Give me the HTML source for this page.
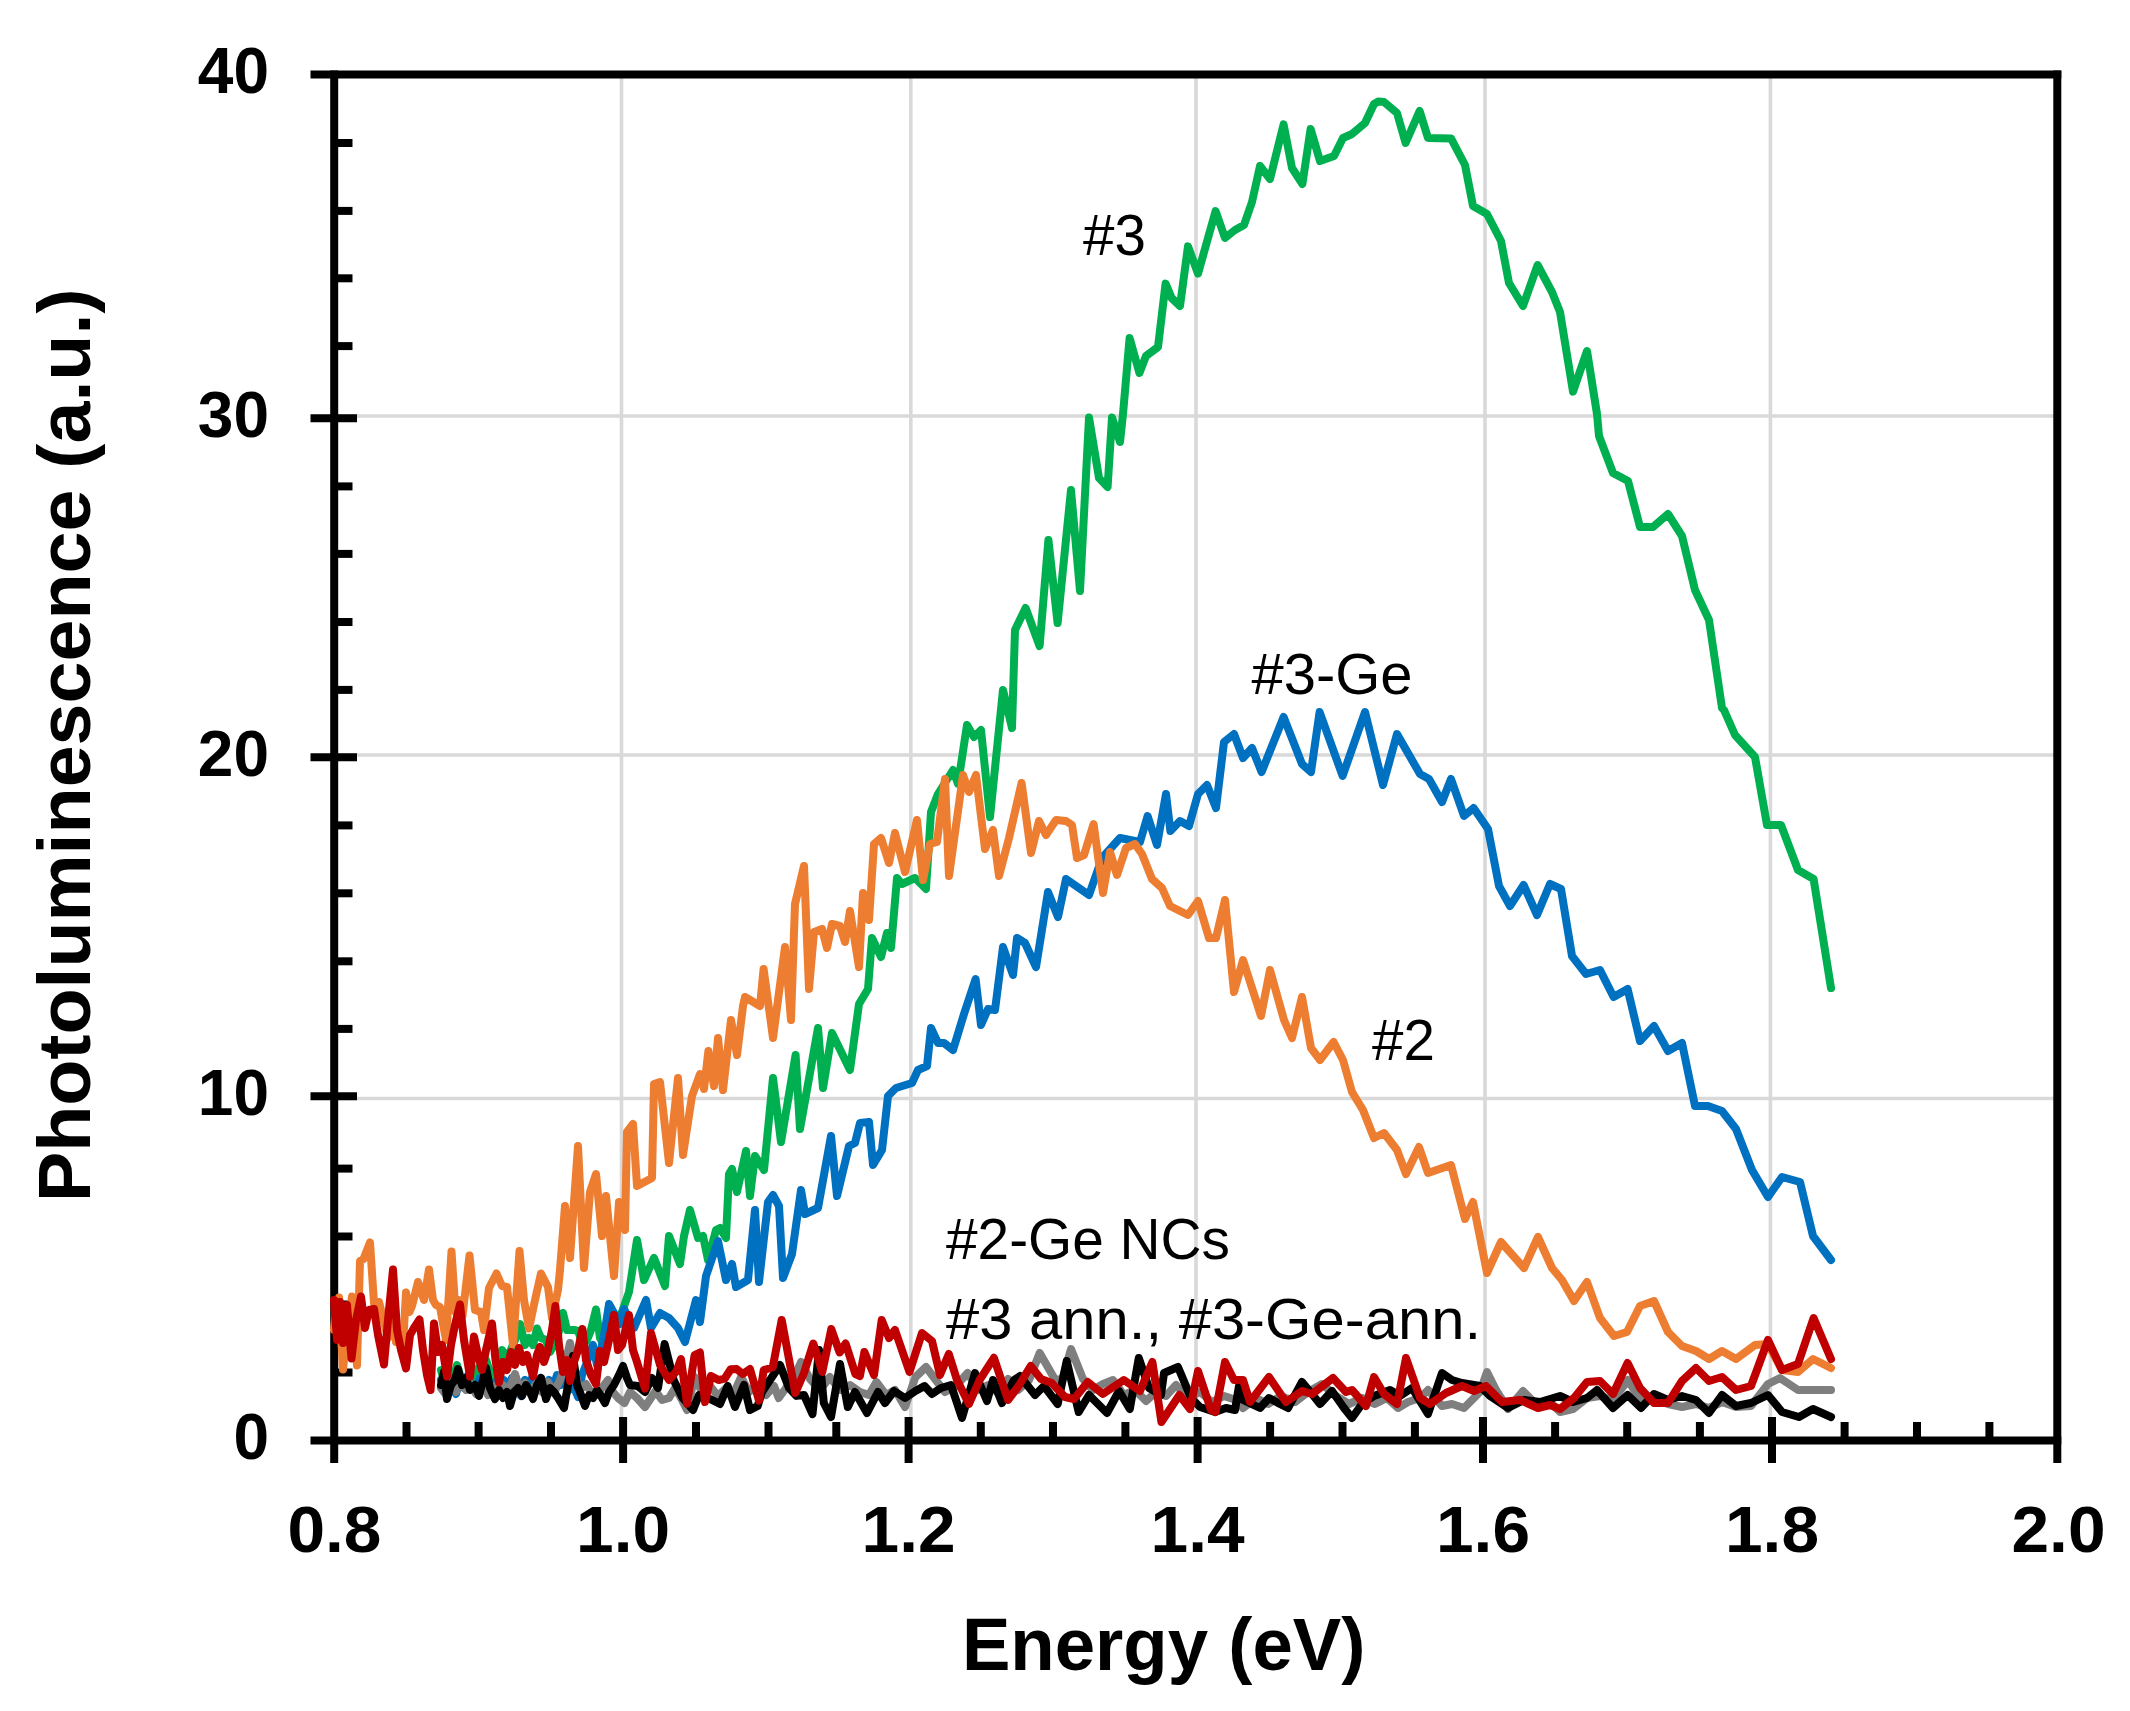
<!DOCTYPE html>
<html><head><meta charset="utf-8"><title>Photoluminescence</title>
<style>
html,body{margin:0;padding:0;background:#fff;}
body{width:2130px;height:1711px;overflow:hidden;}
svg{display:block}
text{font-family:"Liberation Sans",sans-serif;fill:#000}
.b{font-weight:bold}
</style></head><body>
<svg width="2130" height="1711" viewBox="0 0 2130 1711">
<rect width="2130" height="1711" fill="#fff"/>
<g stroke="#d9d9d9" stroke-width="3.6" fill="none"><line x1="621.5" y1="75" x2="621.5" y2="1440"/><line x1="910.8" y1="75" x2="910.8" y2="1440"/><line x1="1196" y1="75" x2="1196" y2="1440"/><line x1="1485" y1="75" x2="1485" y2="1440"/><line x1="1770.4" y1="75" x2="1770.4" y2="1440"/><line x1="334" y1="1098.5" x2="2057" y2="1098.5"/><line x1="334" y1="755" x2="2057" y2="755"/><line x1="334" y1="416" x2="2057" y2="416"/></g>
<g stroke="#000" stroke-width="8" fill="none"><line x1="334.2" y1="70.6" x2="334.2" y2="1463"/><line x1="2057.3" y1="70.6" x2="2057.3" y2="1463"/><line x1="310.5" y1="74.6" x2="2061.3" y2="74.6"/><line x1="310.5" y1="1440.6" x2="2061.3" y2="1440.6"/><line x1="334" y1="143" x2="352.5" y2="143"/><line x1="334" y1="210.9" x2="352.5" y2="210.9"/><line x1="334" y1="278.3" x2="352.5" y2="278.3"/><line x1="334" y1="346.1" x2="352.5" y2="346.1"/><line x1="310.5" y1="418.2" x2="357" y2="418.2"/><line x1="334" y1="486.4" x2="352.5" y2="486.4"/><line x1="334" y1="553.9" x2="352.5" y2="553.9"/><line x1="334" y1="622" x2="352.5" y2="622"/><line x1="334" y1="689.9" x2="352.5" y2="689.9"/><line x1="310.5" y1="757.3" x2="357" y2="757.3"/><line x1="334" y1="825.4" x2="352.5" y2="825.4"/><line x1="334" y1="893.3" x2="352.5" y2="893.3"/><line x1="334" y1="961.3" x2="352.5" y2="961.3"/><line x1="334" y1="1028.9" x2="352.5" y2="1028.9"/><line x1="310.5" y1="1096.3" x2="357" y2="1096.3"/><line x1="334" y1="1168.6" x2="352.5" y2="1168.6"/><line x1="334" y1="1236.5" x2="352.5" y2="1236.5"/><line x1="334" y1="1304.5" x2="352.5" y2="1304.5"/><line x1="334" y1="1372.5" x2="352.5" y2="1372.5"/><line x1="406.5" y1="1422" x2="406.5" y2="1440"/><line x1="478.6" y1="1422" x2="478.6" y2="1440"/><line x1="551" y1="1422" x2="551" y2="1440"/><line x1="623.1" y1="1417" x2="623.1" y2="1463"/><line x1="696" y1="1422" x2="696" y2="1440"/><line x1="768.5" y1="1422" x2="768.5" y2="1440"/><line x1="836.3" y1="1422" x2="836.3" y2="1440"/><line x1="908.6" y1="1417" x2="908.6" y2="1463"/><line x1="980.8" y1="1422" x2="980.8" y2="1440"/><line x1="1053" y1="1422" x2="1053" y2="1440"/><line x1="1125.4" y1="1422" x2="1125.4" y2="1440"/><line x1="1197.6" y1="1417" x2="1197.6" y2="1463"/><line x1="1270.1" y1="1422" x2="1270.1" y2="1440"/><line x1="1342.5" y1="1422" x2="1342.5" y2="1440"/><line x1="1414.9" y1="1422" x2="1414.9" y2="1440"/><line x1="1483" y1="1417" x2="1483" y2="1463"/><line x1="1555.1" y1="1422" x2="1555.1" y2="1440"/><line x1="1627.2" y1="1422" x2="1627.2" y2="1440"/><line x1="1699.9" y1="1422" x2="1699.9" y2="1440"/><line x1="1772" y1="1417" x2="1772" y2="1463"/><line x1="1844.6" y1="1422" x2="1844.6" y2="1440"/><line x1="1917" y1="1422" x2="1917" y2="1440"/><line x1="1989.4" y1="1422" x2="1989.4" y2="1440"/></g>
<polyline points="441.0,1370.0 445.0,1385.0 449.0,1372.0 453.0,1380.0 457.0,1365.0 461.0,1378.0 465.0,1385.0 470.0,1372.0 474.0,1380.0 478.0,1368.0 482.0,1378.0 486.0,1360.0 490.0,1372.0 494.0,1380.0 498.0,1362.0 502.0,1350.0 506.0,1356.0 510.0,1352.0 515.0,1340.0 520.0,1324.0 525.0,1345.0 529.0,1338.0 533.0,1345.0 537.0,1328.5 541.0,1338.0 546.0,1340.0 550.0,1352.0 554.0,1345.0 558.0,1335.0 563.0,1313.0 567.0,1330.0 570.0,1330.0 574.0,1330.0 578.0,1331.0 583.0,1345.0 587.0,1340.0 591.0,1330.0 596.0,1309.5 600.0,1338.0 604.0,1345.0 609.0,1335.0 614.0,1322.0 618.0,1318.0 622.0,1312.0 629.0,1292.0 637.0,1240.0 644.0,1280.0 654.0,1258.0 665.0,1286.0 669.0,1236.0 680.0,1264.0 684.0,1236.0 690.0,1210.0 698.0,1238.0 703.0,1236.0 708.0,1260.0 716.0,1230.0 720.0,1228.0 726.0,1238.0 729.0,1174.0 732.0,1169.0 737.0,1192.0 746.0,1151.0 750.0,1196.0 755.0,1156.0 764.0,1170.0 773.0,1078.0 781.0,1142.0 795.6,1055.0 800.0,1129.0 818.0,1028.0 823.0,1088.0 832.0,1033.0 850.0,1070.0 859.0,1004.0 868.0,989.0 872.0,938.0 881.0,957.0 887.0,933.0 891.0,948.0 897.0,878.0 902.0,884.0 915.0,878.0 926.0,889.0 931.0,812.0 938.0,794.0 953.0,770.0 958.0,784.0 967.0,725.0 974.0,737.0 981.0,730.0 990.0,817.0 1003.0,690.0 1012.0,728.0 1015.0,630.0 1025.6,608.0 1039.6,646.0 1048.4,540.0 1057.6,623.0 1071.0,490.0 1080.0,591.0 1089.0,417.6 1099.0,478.0 1107.6,487.0 1112.0,417.6 1120.0,442.0 1123.0,414.0 1129.6,338.0 1139.4,373.0 1146.0,356.0 1158.0,347.0 1165.6,283.6 1171.6,298.0 1180.0,306.0 1188.0,246.4 1198.0,273.6 1215.6,211.0 1225.0,238.0 1235.0,230.0 1244.0,225.0 1252.0,202.0 1260.0,166.0 1270.0,179.0 1283.6,124.4 1292.0,168.0 1302.4,184.0 1310.6,129.0 1320.0,161.0 1334.0,156.0 1343.0,138.0 1352.0,134.0 1365.0,123.0 1374.0,104.0 1378.0,101.6 1384.0,102.0 1397.0,113.0 1405.6,143.0 1419.6,111.0 1428.0,138.0 1451.0,138.4 1465.0,165.0 1473.0,206.0 1487.0,214.0 1501.0,241.0 1509.0,283.0 1523.0,306.0 1537.6,265.0 1552.0,292.0 1560.0,312.0 1573.0,391.6 1587.0,351.0 1597.0,414.0 1599.0,436.0 1613.0,473.0 1628.0,481.0 1640.0,527.0 1653.0,527.0 1668.0,514.0 1682.0,536.0 1695.0,590.0 1709.0,620.0 1722.0,708.0 1724.0,710.0 1735.0,735.0 1755.0,757.0 1767.0,825.0 1781.0,825.0 1798.0,870.0 1813.6,879.0 1831.0,988.0" fill="none" stroke="#00b050" stroke-width="8.0" stroke-linejoin="round" stroke-linecap="round"/>
<polyline points="441.0,1380.0 445.0,1390.0 449.0,1378.0 453.0,1388.0 456.0,1394.0 460.0,1380.0 464.0,1388.0 468.0,1375.0 472.0,1385.0 476.0,1390.0 480.0,1378.0 484.0,1388.0 488.0,1380.0 492.0,1390.0 496.0,1382.0 500.0,1392.0 504.0,1380.0 508.0,1388.0 512.0,1378.0 516.0,1390.0 521.0,1396.0 525.0,1380.0 529.0,1388.0 533.0,1375.0 537.0,1385.0 541.0,1378.0 545.0,1390.0 549.0,1380.0 553.0,1388.0 557.0,1375.0 561.0,1385.0 565.0,1378.0 569.0,1390.0 573.0,1385.0 578.0,1397.0 582.0,1375.0 586.0,1365.0 590.0,1352.0 593.0,1345.0 597.0,1365.0 601.0,1350.0 605.0,1330.0 609.0,1304.0 620.0,1324.0 624.0,1309.0 634.0,1328.0 646.0,1300.0 651.0,1328.0 660.0,1313.0 669.0,1318.0 678.0,1328.0 685.0,1342.0 696.0,1300.0 700.0,1322.0 706.0,1276.0 718.0,1241.0 726.0,1280.0 732.0,1264.0 736.0,1287.0 748.0,1280.0 755.0,1210.0 759.0,1282.0 768.0,1202.0 773.0,1195.0 779.0,1206.0 783.0,1278.0 792.0,1254.0 801.0,1190.0 805.0,1214.0 818.0,1208.0 831.0,1136.0 837.0,1196.0 849.0,1146.0 855.0,1143.0 860.0,1123.0 869.0,1122.0 873.0,1165.0 882.0,1150.0 888.0,1096.0 896.0,1088.0 912.0,1083.0 918.0,1070.0 927.0,1066.0 931.0,1028.0 938.0,1043.0 944.0,1043.0 953.0,1050.0 964.0,1014.0 975.6,979.0 981.0,1025.0 988.0,1009.0 995.0,1010.0 1003.0,947.0 1013.0,975.0 1017.0,938.0 1025.0,943.0 1036.0,967.0 1048.0,892.0 1058.0,917.0 1066.0,879.0 1089.0,895.0 1102.0,858.0 1120.0,838.0 1140.0,842.0 1147.6,816.0 1157.0,845.0 1166.0,794.0 1170.4,831.0 1180.0,821.0 1189.0,826.0 1198.0,794.0 1207.0,785.0 1216.0,808.0 1224.0,742.0 1234.0,734.0 1243.0,758.0 1252.0,748.0 1261.6,772.0 1283.6,717.0 1302.0,764.0 1311.0,772.0 1319.6,712.0 1342.6,776.0 1365.0,712.0 1383.0,785.0 1397.0,734.0 1420.0,774.0 1429.0,779.0 1442.0,802.0 1451.0,779.0 1464.0,816.0 1473.6,808.0 1488.0,829.0 1499.0,886.0 1510.0,906.0 1523.6,885.0 1537.0,915.0 1550.0,884.0 1561.0,889.0 1572.0,956.0 1586.0,974.0 1600.0,970.0 1613.6,997.0 1627.6,989.0 1640.0,1041.0 1654.0,1026.0 1668.0,1051.0 1682.0,1043.0 1695.0,1106.0 1708.0,1106.0 1722.0,1111.0 1736.0,1129.0 1752.0,1170.0 1768.0,1197.0 1782.0,1177.0 1800.0,1182.0 1813.0,1236.0 1831.0,1260.0" fill="none" stroke="#0070c0" stroke-width="8.0" stroke-linejoin="round" stroke-linecap="round"/>
<polyline points="334.0,1330.0 336.0,1310.0 339.0,1297.5 343.0,1369.5 347.0,1330.0 352.0,1296.5 357.0,1365.5 360.0,1261.0 363.5,1259.0 370.0,1242.5 374.0,1303.0 379.0,1302.0 384.0,1322.0 388.0,1338.0 392.0,1312.0 396.0,1342.0 400.0,1330.0 403.0,1345.0 406.0,1292.5 409.5,1312.0 412.0,1306.0 418.0,1282.0 424.0,1300.0 429.0,1269.5 433.0,1300.0 436.0,1305.0 440.0,1307.0 446.0,1340.0 451.5,1251.5 455.5,1312.0 459.0,1300.0 462.5,1316.0 469.5,1255.5 475.0,1310.0 481.0,1312.0 484.0,1330.0 489.0,1288.0 496.5,1273.5 502.0,1286.0 507.0,1287.0 513.0,1344.5 519.5,1251.0 524.0,1300.0 529.0,1328.5 535.0,1300.0 541.0,1273.5 548.0,1287.0 552.0,1318.0 558.0,1290.0 560.0,1270.0 565.0,1206.0 570.0,1258.0 578.0,1146.0 584.0,1268.0 590.0,1192.0 596.0,1174.0 602.0,1236.0 606.0,1196.0 614.0,1276.0 619.0,1202.0 625.0,1230.0 627.0,1132.0 633.0,1124.0 637.0,1186.0 652.0,1178.0 654.0,1084.0 660.0,1082.0 669.0,1163.0 678.0,1078.0 683.0,1155.0 692.0,1096.0 700.0,1074.0 704.0,1089.0 708.4,1051.0 714.0,1086.0 718.0,1038.0 723.0,1090.0 731.0,1020.0 737.0,1055.0 743.0,1006.0 745.0,997.0 760.0,1006.0 763.6,969.0 773.0,1038.0 785.0,947.0 791.0,1020.0 795.0,904.0 804.0,866.0 809.0,989.0 814.0,932.0 822.0,929.0 827.0,948.0 832.0,924.0 840.0,926.0 845.0,942.0 850.0,911.0 859.0,967.0 863.0,893.0 869.0,920.0 874.0,844.0 881.0,838.0 889.0,863.0 895.0,833.0 905.0,872.0 917.0,820.0 923.0,880.0 930.0,844.0 937.0,842.0 945.0,779.0 949.0,876.0 963.0,775.0 969.0,792.0 976.0,775.0 985.0,849.0 993.0,830.0 999.0,876.0 1009.0,838.0 1021.6,783.0 1031.0,853.0 1039.0,821.0 1046.0,835.0 1056.0,820.0 1066.0,821.0 1072.0,825.0 1077.0,858.0 1084.0,855.0 1093.6,824.0 1103.0,893.0 1110.0,852.0 1117.0,875.0 1126.0,848.0 1135.0,844.0 1142.0,854.0 1152.0,879.0 1162.0,888.0 1170.0,906.0 1188.0,915.0 1198.0,901.0 1209.0,938.0 1216.0,938.0 1225.0,900.0 1234.0,992.0 1243.0,960.0 1261.0,1016.0 1270.0,970.0 1284.0,1020.0 1292.0,1038.0 1302.0,997.0 1311.0,1048.0 1320.0,1060.0 1333.6,1042.0 1343.0,1060.0 1352.0,1092.0 1363.0,1110.0 1374.0,1138.0 1384.0,1133.0 1397.0,1150.0 1406.0,1174.0 1419.0,1147.0 1428.0,1173.0 1451.0,1165.0 1465.0,1219.0 1473.0,1202.0 1487.0,1273.0 1501.0,1242.0 1524.0,1268.0 1538.0,1237.0 1552.0,1268.0 1562.0,1280.0 1574.0,1301.0 1587.0,1282.0 1600.0,1318.0 1614.0,1336.0 1627.0,1332.0 1640.0,1306.0 1654.0,1301.0 1668.0,1332.0 1682.0,1346.0 1696.0,1351.0 1709.0,1359.0 1722.0,1351.0 1736.0,1359.0 1755.0,1345.0 1768.0,1344.0 1782.0,1370.0 1798.0,1372.0 1813.0,1359.0 1831.0,1368.0" fill="none" stroke="#ed7d31" stroke-width="8.0" stroke-linejoin="round" stroke-linecap="round"/>
<polyline points="441.0,1388.0 446.0,1395.0 451.0,1382.0 456.0,1392.0 461.0,1380.0 466.0,1390.0 471.0,1384.0 476.0,1394.0 480.0,1392.0 484.0,1385.0 488.0,1395.0 493.0,1386.0 498.0,1394.0 503.0,1385.0 508.0,1392.0 515.0,1374.0 520.0,1390.0 525.0,1383.0 530.0,1393.0 536.0,1384.0 542.0,1392.0 548.0,1382.0 554.0,1393.0 560.0,1380.0 565.0,1365.0 570.0,1343.0 575.0,1372.0 580.0,1390.0 586.0,1384.0 591.0,1392.0 597.0,1395.0 602.0,1388.0 608.0,1380.0 613.0,1392.0 618.0,1398.0 624.5,1403.0 630.0,1392.0 637.0,1398.0 645.0,1407.0 655.5,1391.0 662.0,1400.0 669.0,1398.0 675.0,1388.0 681.0,1398.0 687.0,1410.0 694.6,1377.0 702.0,1392.0 710.0,1386.0 718.0,1396.0 726.0,1388.0 733.0,1395.0 741.0,1377.0 749.0,1392.0 757.0,1385.0 766.0,1395.0 774.0,1386.0 778.7,1398.0 786.0,1388.0 793.0,1380.0 801.0,1362.0 810.0,1379.0 820.0,1390.0 829.8,1377.0 840.0,1390.0 850.0,1385.0 860.0,1392.0 869.0,1395.0 876.4,1382.0 886.0,1395.0 895.0,1390.0 905.0,1407.0 915.5,1377.0 926.0,1367.0 935.0,1379.0 945.0,1392.0 956.0,1386.0 967.6,1373.0 978.0,1390.0 988.0,1385.0 998.0,1393.0 1008.0,1379.0 1018.0,1390.0 1029.0,1380.0 1039.7,1353.0 1054.7,1379.0 1062.0,1380.0 1071.0,1349.0 1083.0,1379.0 1093.0,1390.0 1103.0,1384.0 1113.0,1380.0 1124.0,1395.0 1135.0,1390.0 1146.0,1401.0 1156.0,1392.0 1166.0,1396.0 1176.0,1385.0 1188.0,1398.0 1200.0,1392.0 1212.0,1402.0 1224.0,1396.0 1236.0,1400.0 1243.0,1408.0 1256.0,1398.0 1268.0,1404.0 1281.0,1396.0 1295.0,1402.0 1308.0,1392.0 1322.0,1384.0 1336.0,1396.0 1349.0,1404.0 1362.0,1398.0 1375.0,1404.0 1387.0,1398.0 1398.0,1408.0 1408.0,1402.0 1420.0,1398.0 1428.0,1390.0 1442.0,1406.0 1452.0,1404.0 1464.0,1408.0 1480.0,1392.0 1487.0,1372.0 1496.0,1390.0 1508.0,1409.0 1523.0,1391.0 1536.0,1404.0 1548.0,1400.0 1560.0,1412.0 1573.0,1409.0 1587.0,1398.0 1600.0,1396.0 1613.0,1400.0 1628.0,1380.0 1640.0,1400.0 1654.0,1400.0 1668.0,1404.0 1682.0,1407.0 1696.0,1404.0 1709.0,1408.0 1722.0,1402.0 1736.0,1407.0 1751.0,1406.0 1768.0,1384.0 1780.0,1378.0 1798.0,1390.0 1813.0,1390.0 1831.0,1390.0" fill="none" stroke="#7f7f7f" stroke-width="8.0" stroke-linejoin="round" stroke-linecap="round"/>
<polyline points="441.0,1385.0 444.0,1372.0 447.0,1399.0 451.0,1385.0 455.0,1380.0 458.0,1369.0 462.0,1385.0 466.0,1378.0 470.0,1390.0 475.0,1385.0 479.0,1396.0 483.0,1380.0 486.0,1368.0 490.0,1388.0 495.0,1399.0 499.0,1390.0 503.0,1398.0 507.0,1392.0 510.0,1406.0 514.0,1392.0 518.0,1388.0 522.0,1396.0 526.0,1385.0 530.0,1392.0 533.0,1399.0 537.0,1385.0 541.0,1378.0 546.0,1399.0 550.0,1388.0 554.0,1392.0 558.0,1398.0 564.0,1408.0 568.0,1385.0 573.0,1356.0 577.0,1385.0 581.0,1395.0 585.0,1406.0 589.0,1395.0 593.0,1398.0 597.0,1390.0 601.0,1396.0 605.0,1403.0 609.0,1392.0 614.0,1385.0 619.0,1375.0 623.0,1366.0 627.0,1378.0 630.0,1385.0 637.5,1386.0 645.0,1392.0 652.0,1378.0 658.0,1388.0 664.6,1344.0 673.6,1380.0 682.6,1398.0 693.0,1410.0 699.0,1395.0 708.0,1398.0 714.0,1401.0 720.0,1404.0 727.7,1386.0 735.0,1407.0 744.0,1385.0 750.0,1410.0 757.7,1406.0 762.0,1392.0 772.7,1376.0 780.0,1365.0 789.0,1388.0 796.5,1395.9 804.0,1395.0 812.5,1414.0 819.0,1350.0 823.8,1403.0 831.0,1417.0 840.0,1364.0 847.8,1407.0 855.0,1392.0 867.0,1413.0 878.0,1392.0 885.0,1403.0 894.0,1391.0 905.0,1398.0 915.5,1391.0 924.5,1386.0 932.0,1394.0 941.0,1388.0 951.0,1385.0 962.0,1418.0 975.0,1373.0 987.0,1401.0 993.0,1380.0 1002.0,1403.0 1014.0,1380.0 1020.0,1376.0 1035.0,1395.0 1044.0,1386.0 1057.7,1404.0 1066.7,1361.0 1078.7,1412.0 1089.0,1395.0 1107.0,1413.0 1119.0,1391.0 1129.8,1409.0 1138.8,1358.0 1149.0,1388.0 1161.0,1395.0 1164.0,1373.0 1178.0,1367.0 1191.0,1398.0 1200.0,1407.0 1215.0,1412.0 1226.0,1408.0 1235.0,1410.0 1239.0,1386.0 1243.0,1400.0 1260.0,1408.0 1269.0,1398.0 1280.0,1404.0 1288.0,1408.0 1302.0,1382.0 1312.0,1394.0 1320.0,1404.0 1332.0,1391.0 1344.0,1408.0 1352.0,1418.0 1362.0,1404.0 1374.0,1396.0 1390.0,1390.0 1400.0,1396.0 1412.0,1388.0 1428.0,1414.0 1442.0,1373.0 1452.0,1380.0 1462.0,1383.0 1480.0,1386.0 1490.0,1396.0 1508.0,1408.0 1524.0,1400.0 1540.0,1402.0 1560.0,1396.0 1573.0,1402.0 1587.0,1398.0 1597.0,1390.0 1613.0,1408.0 1627.6,1395.0 1641.0,1408.0 1654.0,1394.0 1668.0,1400.0 1682.0,1396.0 1696.0,1400.0 1709.0,1413.0 1722.0,1395.0 1736.0,1406.0 1751.0,1403.0 1768.0,1395.0 1782.0,1412.0 1799.0,1417.0 1813.0,1409.0 1831.0,1417.0" fill="none" stroke="#000000" stroke-width="8.0" stroke-linejoin="round" stroke-linecap="round"/>
<polyline points="334.0,1300.0 337.0,1340.0 340.0,1302.0 343.0,1343.0 347.0,1305.0 351.5,1358.5 356.0,1320.0 361.0,1296.5 365.0,1328.0 369.0,1310.0 374.0,1309.0 378.0,1335.0 384.0,1364.5 388.0,1320.0 393.0,1269.5 397.0,1330.0 401.0,1350.0 406.0,1368.5 410.0,1335.0 414.0,1328.0 419.5,1319.5 423.0,1350.0 427.0,1375.0 430.6,1390.0 434.0,1323.5 438.0,1352.0 442.0,1345.0 447.0,1376.5 451.0,1345.0 455.0,1325.0 460.0,1304.5 464.0,1340.0 470.0,1376.5 474.0,1336.5 478.0,1355.0 482.0,1370.0 486.0,1350.0 492.0,1323.5 495.5,1360.0 499.0,1382.5 503.0,1362.0 507.0,1370.0 511.0,1352.0 515.0,1365.0 519.0,1348.0 523.0,1362.0 527.0,1355.0 533.0,1376.5 537.0,1355.0 540.0,1347.0 544.0,1362.0 548.0,1350.0 552.0,1330.0 555.4,1306.0 559.0,1345.0 563.0,1372.0 567.0,1360.0 570.0,1381.0 574.0,1362.0 578.0,1350.0 582.4,1329.0 586.0,1360.0 591.0,1375.0 596.0,1384.0 600.0,1351.0 604.0,1362.0 609.0,1340.0 614.0,1315.0 618.0,1350.0 622.0,1345.0 629.0,1315.0 633.0,1350.0 637.0,1362.0 645.0,1388.6 651.0,1333.0 660.0,1365.0 669.0,1380.0 676.6,1371.0 681.0,1359.0 687.0,1403.6 694.6,1355.0 699.9,1352.5 705.0,1402.0 711.0,1376.0 718.6,1380.0 724.6,1378.7 730.7,1369.3 736.7,1369.0 742.7,1374.0 750.0,1369.0 759.0,1400.6 763.7,1370.0 772.7,1367.5 781.7,1320.0 795.3,1393.0 804.0,1373.0 813.3,1343.5 822.3,1372.0 831.3,1329.0 839.6,1352.5 845.6,1343.5 855.4,1374.0 859.9,1376.0 864.4,1352.0 874.0,1375.0 881.7,1320.0 889.0,1338.0 895.0,1330.0 909.5,1372.0 922.0,1333.0 932.0,1341.0 940.0,1375.0 948.8,1354.0 957.0,1380.0 969.0,1404.0 979.6,1380.0 993.9,1357.8 1008.0,1400.0 1018.6,1386.0 1030.7,1366.0 1041.0,1379.0 1051.7,1383.0 1065.0,1397.0 1074.0,1399.0 1087.8,1382.0 1102.8,1394.0 1123.8,1380.0 1140.0,1391.0 1152.4,1362.0 1161.4,1422.0 1179.4,1395.0 1190.0,1409.0 1198.0,1371.0 1211.0,1410.0 1215.5,1412.0 1225.0,1362.0 1234.0,1380.0 1243.0,1380.0 1250.0,1402.0 1269.0,1377.0 1286.0,1402.0 1302.0,1391.0 1312.0,1394.0 1333.0,1378.0 1346.0,1392.0 1352.0,1390.0 1366.0,1406.0 1374.0,1377.0 1384.0,1394.0 1397.0,1404.0 1406.0,1358.0 1420.0,1398.0 1430.0,1404.0 1446.0,1393.0 1462.0,1386.0 1474.0,1391.0 1486.0,1386.0 1502.0,1402.0 1520.0,1400.0 1538.0,1408.0 1550.0,1405.0 1560.0,1409.0 1574.0,1398.0 1587.0,1382.0 1600.0,1381.0 1613.0,1394.0 1627.6,1363.0 1640.0,1388.0 1654.0,1403.0 1668.0,1403.0 1682.0,1381.0 1696.0,1368.0 1709.0,1381.0 1722.0,1377.0 1736.0,1390.0 1751.0,1386.0 1768.0,1340.0 1782.0,1370.0 1798.0,1364.0 1813.6,1318.0 1831.0,1359.0" fill="none" stroke="#c00000" stroke-width="8.0" stroke-linejoin="round" stroke-linecap="round"/>
<text class="b" x="269" y="1458.9" font-size="64" text-anchor="end">0</text><text class="b" x="269" y="1114.6" font-size="64" text-anchor="end">10</text><text class="b" x="269" y="775.6" font-size="64" text-anchor="end">20</text><text class="b" x="269" y="436.5" font-size="64" text-anchor="end">30</text><text class="b" x="269" y="92.9" font-size="64" text-anchor="end">40</text><text class="b" x="287.4" y="1552" font-size="64" textLength="94" lengthAdjust="spacingAndGlyphs">0.8</text><text class="b" x="576.1" y="1552" font-size="64" textLength="94" lengthAdjust="spacingAndGlyphs">1.0</text><text class="b" x="861.6" y="1552" font-size="64" textLength="94" lengthAdjust="spacingAndGlyphs">1.2</text><text class="b" x="1150.6" y="1552" font-size="64" textLength="94" lengthAdjust="spacingAndGlyphs">1.4</text><text class="b" x="1436.0" y="1552" font-size="64" textLength="94" lengthAdjust="spacingAndGlyphs">1.6</text><text class="b" x="1725.0" y="1552" font-size="64" textLength="94" lengthAdjust="spacingAndGlyphs">1.8</text><text class="b" x="2011.5" y="1552" font-size="64" textLength="94" lengthAdjust="spacingAndGlyphs">2.0</text>
<text class="b" x="961.9" y="1670.3" font-size="74" textLength="403.5" lengthAdjust="spacingAndGlyphs">Energy (eV)</text>
<text class="b" transform="translate(90.4,1202.1) rotate(-90)" font-size="75" textLength="913.6" lengthAdjust="spacingAndGlyphs">Photoluminescence (a.u.)</text>
<text x="1083" y="255" font-size="56.5">#3</text>
<text x="1251.5" y="694" font-size="56.5" textLength="161" lengthAdjust="spacingAndGlyphs">#3-Ge</text>
<text x="1372" y="1060" font-size="56.5">#2</text>
<text x="946" y="1259.4" font-size="56.5" textLength="284" lengthAdjust="spacingAndGlyphs">#2-Ge NCs</text>
<text x="946" y="1339" font-size="56.5" textLength="535" lengthAdjust="spacingAndGlyphs">#3 ann., #3-Ge-ann.</text>
</svg></body></html>
